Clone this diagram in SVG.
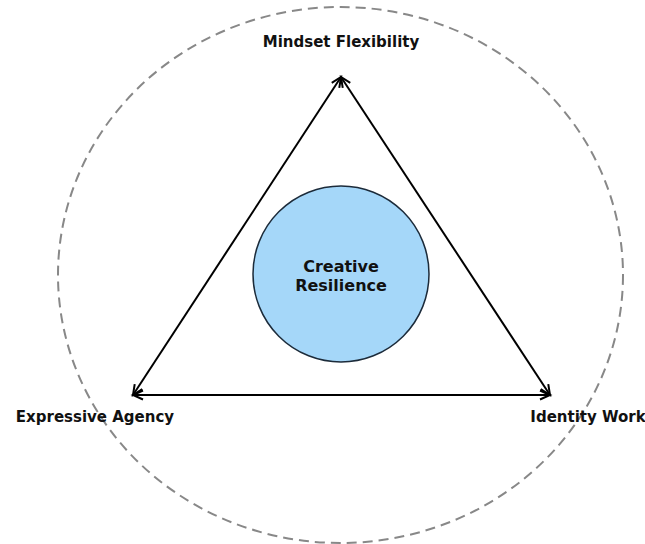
<svg xmlns="http://www.w3.org/2000/svg" width="645" height="544" viewBox="0 0 645 544">
  <style>
    .label { font-family: "DejaVu Sans", "Liberation Sans", sans-serif; font-weight: bold; font-size: 15px; fill: #111; text-anchor: middle; }
    .core-text { font-family: "DejaVu Sans", "Liberation Sans", sans-serif; font-weight: bold; font-size: 16px; fill: #111; text-anchor: middle; }
    .edge { stroke: #000; stroke-width: 2; fill: none; marker-start: url(#head); marker-end: url(#head); }
  </style>
  <defs>
    <marker id="head" markerUnits="userSpaceOnUse" markerWidth="14" markerHeight="12" viewBox="-12 -6 14 12" refX="0" refY="0" orient="auto-start-reverse" overflow="visible">
      <path d="M-10,-4.5 L0,0 L-10,4.5" fill="none" stroke="#000" stroke-width="2" stroke-linejoin="miter"/>
    </marker>
  </defs>
  <rect width="645" height="544" fill="#fff"/>

  <!-- outer dashed boundary -->
  <g id="boundary">
    <ellipse cx="340.5" cy="275" rx="282.5" ry="268" fill="none" stroke="#888" stroke-width="2" stroke-dasharray="10 6"/>
  </g>

  <!-- two-way links between the three dimensions -->
  <g id="connectors">
    <line class="edge" x1="133" y1="395" x2="341" y2="77"/>
    <line class="edge" x1="341" y1="77" x2="550" y2="395"/>
    <line class="edge" x1="133" y1="395" x2="550" y2="395"/>
  </g>

  <g id="core">
    <circle cx="341" cy="274" r="88" fill="#a5d7f9" stroke="#1c2b3a" stroke-width="1.5"/>
    <text class="core-text" x="341" y="272">Creative</text>
    <text class="core-text" x="341" y="291">Resilience</text>
  </g>

  <g id="mindset">
    <text class="label" x="341" y="47">Mindset Flexibility</text>
  </g>
  <g id="expressive">
    <text class="label" x="95" y="422">Expressive Agency</text>
  </g>
  <g id="identity">
    <text class="label" x="588" y="422">Identity Work</text>
  </g>
</svg>
